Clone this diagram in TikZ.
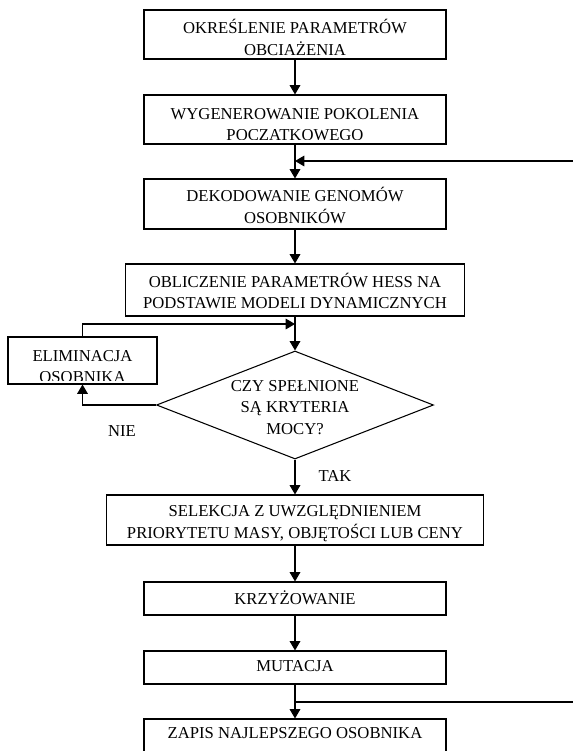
\documentclass[tikz,border=0pt]{standalone}
\usepackage{fontspec}
\setmainfont{Liberation Serif}
\usetikzlibrary{shapes.geometric,arrows.meta}

\begin{document}
\begin{tikzpicture}[x=0.75pt, y=-0.75pt,
    txt/.style={font=\fontsize{12.5}{16}\selectfont, align=center, inner sep=0pt},
    box/.style={txt, draw, line width=0.8pt},
    flow/.style={line width=0.8pt, -{Triangle[length=7pt,width=8pt]}}]
  \useasboundingbox (0,0) rectangle (573,751);

  % Main column of boxes
  \node[box, minimum width=226.5pt, minimum height=36.75pt] (param) at (295,34.5) {};
  \node[txt] (paramtxt) at (295,37.5) {OKREŚLENIE PARAMETRÓW\\OBCIAŻENIA};

  \node[box, minimum width=226.5pt, minimum height=36.75pt] (gen) at (295,119.5) {};
  \begin{scope}
    \clip (gen.north west) rectangle ([yshift=4pt]gen.south east);
    \node[txt] (gentxt) at (295,124.8) {WYGENEROWANIE POKOLENIA\\POCZATKOWEGO};
  \end{scope}

  \node[box, minimum width=226.5pt, minimum height=37.5pt] (dekod) at (295,204) {};
  \node[txt] (dekodtxt) at (295,205.5) {DEKODOWANIE GENOMÓW\\OSOBNIKÓW};

  \node[box, minimum width=254.25pt, minimum height=39pt] (hess) at (295,290) {};
  \node[txt] (hesstxt) at (295,291) {OBLICZENIE PARAMETRÓW HESS NA\\PODSTAWIE MODELI DYNAMICZNYCH};

  % Decision
  \node[draw, line width=0.8pt, shape=diamond, shape aspect=2.56, inner sep=0pt,
        minimum width=207.75pt, minimum height=81pt] (moc) at (295,405) {};
  \node[txt] (moctxt) at (295,407.5) {CZY SPEŁNIONE\\SĄ KRYTERIA\\MOCY?};

  % Elimination
  \node[box, minimum width=111.75pt, minimum height=35.25pt] (elim) at (82.5,360.5) {};
  \begin{scope}
    \clip (elim.north west) rectangle ([yshift=3pt]elim.south east);
    \node[txt] (elimtxt) at (82.5,366.5) {ELIMINACJA\\OSOBNIKA};
  \end{scope}

  \node[box, minimum width=282.75pt, minimum height=37.5pt] (selek) at (295,520) {};
  \node[txt] (selektxt) at (295,523.5) {SELEKCJA Z UWZGLĘDNIENIEM\\PRIORYTETU MASY, OBJĘTOŚCI LUB CENY};

  \node[box, minimum width=226.5pt, minimum height=24.75pt] (krzyz) at (295,598.5) {};
  \node[txt] (krzyztxt) at (295,598) {KRZYŻOWANIE};

  \node[box, minimum width=226.5pt, minimum height=24.75pt] (mut) at (295,667.5) {};
  \node[txt] (muttxt) at (295,666.5) {MUTACJA};

  \node[box, minimum width=226.5pt, minimum height=24.75pt] (zapis) at (295,735.5) {};
  \node[txt] (zapistxt) at (295,733.5) {ZAPIS NAJLEPSZEGO OSOBNIKA};

  % Junctions
  \coordinate (j1) at (295,161);
  \coordinate (j2) at (295,702);
  \coordinate (j3) at (295,324);

  % Connectors
  \draw[flow] (param) -- (gen);
  \draw[flow] (gen) -- (dekod);
  \draw[flow] (dekod) -- (hess);
  \draw[flow] (hess) -- (moc);
  \draw[flow] (moc.west) -| (elim.south);
  \draw[flow] (elim.north) |- (j3);
  \draw[flow] (moc) -- (selek);
  \draw[flow] (selek) -- (krzyz);
  \draw[flow] (krzyz) -- (mut);
  \draw[flow] (mut) -- (zapis);
  \draw[flow] (j2) -- ++(310,0) |- (j1);

  % Labels
  \node[txt] (nie) at (122,431) {NIE};
  \node[txt] (tak) at (335,476) {TAK};
\end{tikzpicture}
\end{document}
